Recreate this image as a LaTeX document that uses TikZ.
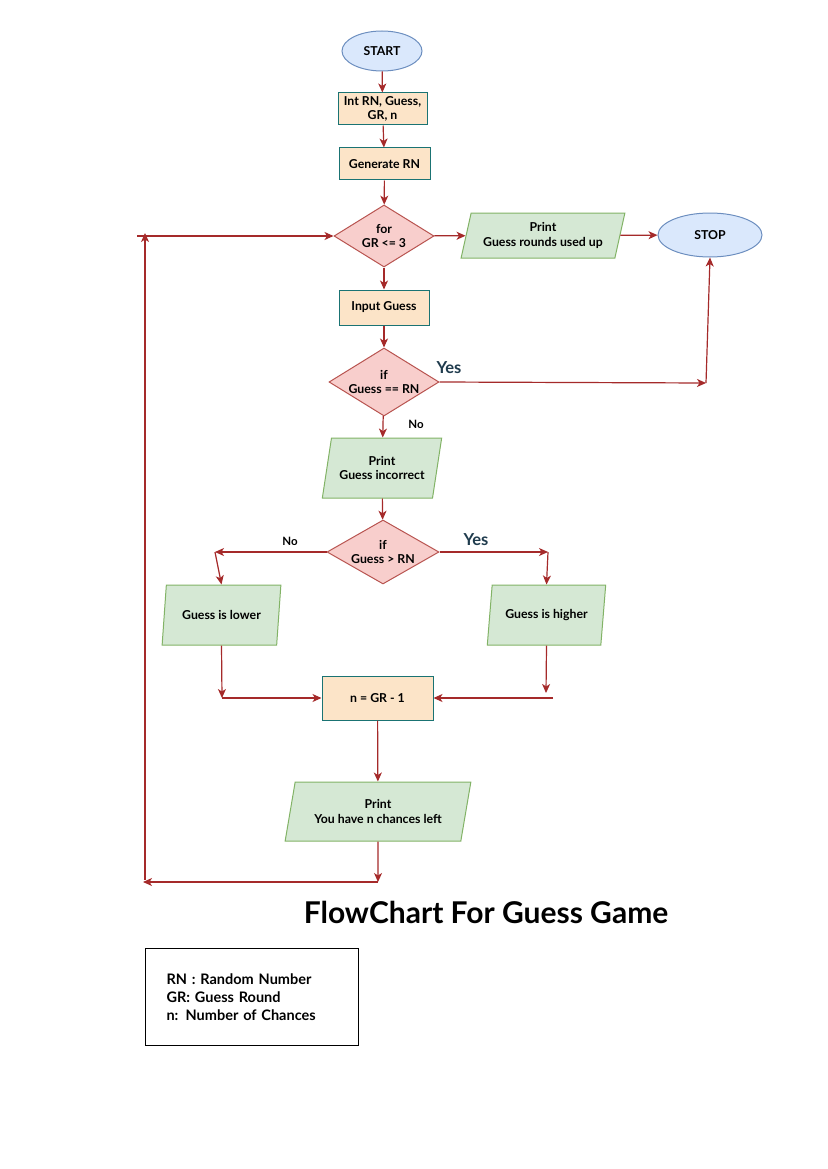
\documentclass[tikz,border=0pt]{standalone}
\usepackage{fontspec}
\setmainfont{Lato}
\usepackage{tikz}
\usetikzlibrary{shapes, arrows.meta, positioning}

\definecolor{termfill}{HTML}{DAE8FC}
\definecolor{termline}{HTML}{6C8EBF}
\definecolor{procfill}{HTML}{FCE4C8}
\definecolor{procline}{HTML}{1A7373}
\definecolor{decfill}{HTML}{F8CECC}
\definecolor{decline}{HTML}{B85450}
\definecolor{iofill}{HTML}{D5E8D4}
\definecolor{ioline}{HTML}{82B366}
\definecolor{flow}{HTML}{A52A2A}
\definecolor{yescol}{HTML}{1F3B4D}

\begin{document}
\begin{tikzpicture}[x=1pt, y=-1pt, font=\fontsize{12.3}{14.5}\selectfont\bfseries,
    term/.style = {draw=termline, fill=termfill, ellipse, inner sep=0pt, line width=1pt},
    proc/.style = {draw=procline, fill=procfill, rectangle, align=center, inner sep=0pt, line width=1pt},
    dec/.style = {draw=decline, fill=decfill, diamond, align=center, inner sep=-9pt, line width=1pt},
    io/.style = {draw=ioline, fill=iofill, trapezium, trapezium left angle=72, trapezium right angle=108,
        trapezium stretches=true, align=center, inner sep=0pt, line width=1pt},
    flowline/.style = {draw=flow, line width=1.2pt, -{Stealth[length=9pt, width=8pt, inset=2.5pt]}},
    yeslabel/.style = {text=yescol, font=\fontsize{16.5}{18}\selectfont\bfseries},
    nolabel/.style = {font=\fontsize{11.5}{13}\selectfont\bfseries}]
    \useasboundingbox (0,0) rectangle (827,1169);

    \node[term, minimum width=80, minimum height=40] (start) at (382,51) {START};
    \node[proc, minimum width=89, minimum height=32] (init) at (382.5,109) {Int RN, Guess,\\GR, n};
    \node[proc, minimum width=91, minimum height=32] (gen) at (384.5,164) {Generate RN};
    \node[dec, minimum width=100, minimum height=62] (loop) at (384,236) {for\\GR <= 3};
    \node[io, minimum width=164, minimum height=45] (used) at (543,235.5) {Print\\Guess rounds used up};
    \node[term, minimum width=104, minimum height=44] (stop) at (710,235) {STOP};
    \node[proc, minimum width=90, minimum height=35] (input) at (384,307.5) {Input Guess};
    \node[dec, minimum width=110, minimum height=68] (check) at (384,382) {if\\Guess == RN};
    \node[io, minimum width=120, minimum height=60] (wrong) at (382,468) {Print\\Guess incorrect};
    \node[dec, minimum width=112, minimum height=64] (cmp) at (383,552) {if\\Guess > RN};
    \node[io, minimum width=119, minimum height=60] (lower) at (221.5,615) {Guess is lower};
    \node[io, minimum width=119, minimum height=60] (higher) at (546.5,615) {Guess is higher};
    \node[proc, minimum width=111, minimum height=44] (count) at (377.5,698) {n = GR - 1};
    \node[io, minimum width=186, minimum height=59] (chances) at (378,811.5) {Print\\You have n chances left};

    \node[yeslabel] (yes1) at (449,368) {Yes};
    \node[nolabel] (no1) at (416,424) {No};
    \node[nolabel] (no2) at (290,541) {No};
    \node[yeslabel] (yes2) at (476,540) {Yes};

    \coordinate (yesbend) at (706,383);
    \coordinate (nobend) at (215,552);
    \coordinate (yesend) at (548,552);
    \coordinate (lowjoin) at (222,698);
    \coordinate (highjoin) at (546,693);
    \coordinate (highend) at (553,698);
    \coordinate (backdown) at (378,882);
    \coordinate (backleft) at (143,882);
    \coordinate (backup) at (145,880);
    \coordinate (backtop) at (145,233);
    \coordinate (backstart) at (137,236);

    \draw[flowline] (start) -- (init);
    \draw[flowline] (init) -- (gen);
    \draw[flowline] (gen) -- (loop);
    \draw[flowline] (loop) -- (used);
    \draw[flowline] (used) -- (stop);
    \draw[flowline] (loop) -- (input);
    \draw[flowline] (input) -- (check);
    \draw[flowline] (check.east) -- (yesbend);
    \draw[flowline] (yesbend) -- (stop.south);
    \draw[flowline] (check) -- (wrong);
    \draw[flowline] (wrong) -- (cmp);
    \draw[flowline] (cmp.west) -- (nobend);
    \draw[flowline] (nobend) -- (lower.north);
    \draw[flowline] (cmp.east) -- (yesend);
    \draw[flowline] (yesend) -- (higher.north);
    \draw[flowline] (lower.south) -- (lowjoin);
    \draw[flowline] (lowjoin) -- (count.west);
    \draw[flowline] (higher.south) -- (highjoin);
    \draw[flowline] (highend) -- (count.east);
    \draw[flowline] (count) -- (chances);
    \draw[flowline] (chances) -- (backdown);
    \draw[flowline] (backdown) -- (backleft);
    \draw[flowline] (backup) -- (backtop);
    \draw[flowline] (backstart) -- (loop.west);

    \node[font=\fontsize{30}{34}\selectfont\bfseries] (title) at (486,912) {FlowChart For Guess Game};
    \node[draw, line width=1pt, anchor=north west, text width=171, inner xsep=21, minimum height=97,
        align=left, font=\fontsize{14.5}{18}\selectfont\bfseries] (legend) at (145,948)
        {RN : Random Number\\GR: Guess Round\\n: Number of Chances};
\end{tikzpicture}
\end{document}
